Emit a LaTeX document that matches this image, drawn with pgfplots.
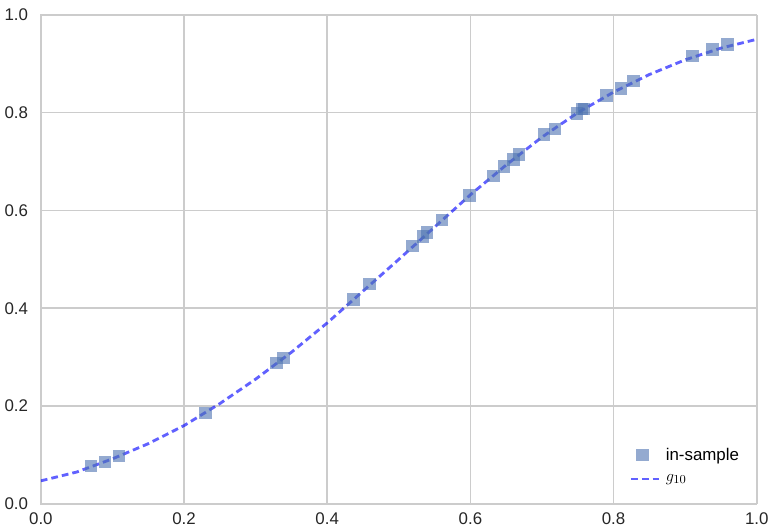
\documentclass[border=0pt]{standalone}
\usepackage{fontspec}
\setmainfont{Liberation Sans}
\usepackage{pgfplots}
\pgfplotsset{compat=1.18}
\definecolor{sbblue}{HTML}{4C72B0}
\definecolor{gridgray}{HTML}{CCCCCC}
\definecolor{lineblue}{RGB}{0,0,255}
\pgfplotsset{longline/.style={legend image code/.code={\draw[#1] (0pt,0pt) -- (0.8cm,0pt);}}}

\begin{document}
\begin{tikzpicture}
\begin{axis}[
  scale only axis,
  width=530pt, height=362pt,
  xmin=0, xmax=1, ymin=0, ymax=1,
  xtick={0,0.2,0.4,0.6,0.8,1.0},
  ytick={0,0.2,0.4,0.6,0.8,1.0},
  /pgf/number format/.cd, fixed, fixed zerofill, precision=1, assume math mode=true,
  /pgfplots/.cd,
  tick style={draw=none},
  grid=major,
  major grid style={gridgray, line width=1.2pt},
  axis line style={gridgray, line width=1pt},
  tick label style={font=\fontsize{12.5}{14}\selectfont, text=black!85},
  xticklabel style={yshift=-3pt},
  yticklabel style={xshift=-6pt},
  legend style={draw=none, fill=none, at={(0.985,0.03)}, anchor=south east,
    font=\fontsize{12.5}{14}\selectfont, row sep=5pt},
  legend cell align=left,
]
\addplot[only marks, color=sbblue, mark=square*, mark size=4.6pt,
  mark options={fill=sbblue, fill opacity=0.6, draw opacity=0}]
  coordinates {
  (0.070,0.077) (0.090,0.086) (0.109,0.098) (0.230,0.186)
  (0.329,0.288) (0.339,0.298) (0.437,0.418) (0.459,0.449)
  (0.519,0.527) (0.534,0.547) (0.539,0.555) (0.560,0.580)
  (0.599,0.631) (0.632,0.671) (0.647,0.690) (0.660,0.704)
  (0.668,0.714) (0.703,0.755) (0.718,0.767) (0.749,0.798)
  (0.756,0.807) (0.759,0.808) (0.790,0.835) (0.810,0.849)
  (0.828,0.865) (0.910,0.916) (0.938,0.929) (0.959,0.939)
  };
\addlegendentry{in-sample}
\addplot[lineblue, opacity=0.62, line width=2.1pt, dash pattern=on 5pt off 3pt, longline]
  coordinates {
  (0.00,0.047) (0.05,0.065) (0.10,0.092) (0.15,0.123) (0.20,0.160)
  (0.25,0.205) (0.30,0.255) (0.35,0.310) (0.40,0.370) (0.45,0.435)
  (0.50,0.500) (0.55,0.566) (0.60,0.632) (0.65,0.693) (0.70,0.750)
  (0.75,0.800) (0.80,0.842) (0.85,0.878) (0.90,0.908) (0.95,0.932)
  (1.00,0.950)
  };
\addlegendentry{$g_{10}$}
\end{axis}
\path ([yshift=11pt]current axis.north west);
\end{tikzpicture}
\end{document}
